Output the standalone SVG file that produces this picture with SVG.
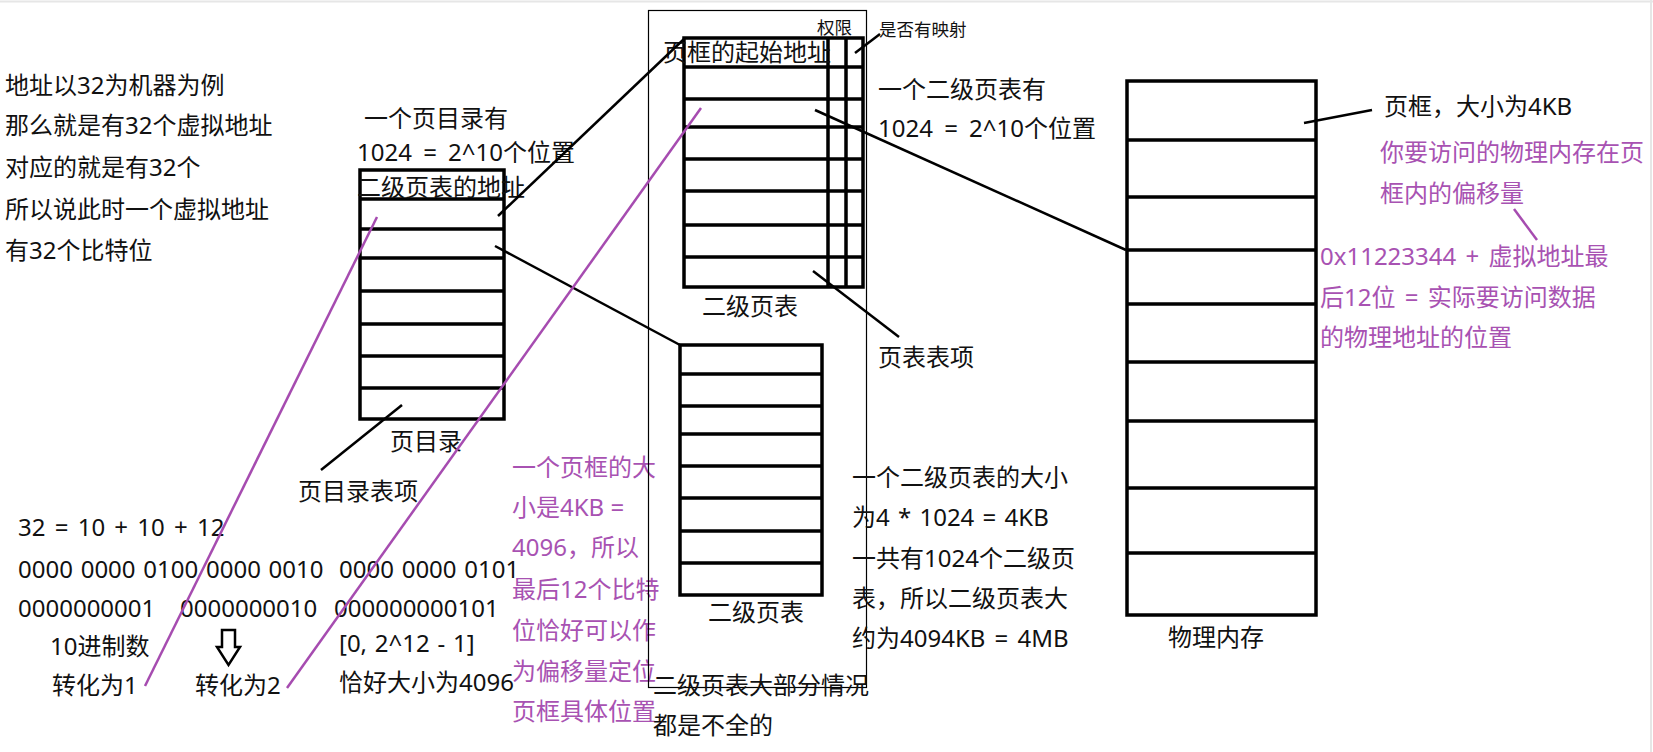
<svg xmlns="http://www.w3.org/2000/svg" width="1653" height="752" viewBox="0 0 1653 752">
<style>
.t{font-family:"Noto Sans","Noto Sans CJK SC",sans-serif;font-size:24px;fill:#111}
.s{font-size:17.5px}
.p{fill:#a852b2}
.w{word-spacing:5px}
.box{fill:none;stroke:#000;stroke-width:3.5}
.row{stroke:#000;stroke-width:3.5}
.thin{fill:none;stroke:#000;stroke-width:1.2}
.c{stroke:#000;stroke-width:2.5;fill:none}
.pl{stroke:#a64cb0;stroke-width:2.5;fill:none}
</style>
<rect width="1653" height="752" fill="#fff"/>
<line x1="0" y1="1.5" x2="1653" y2="1.5" stroke="#e6e6e6" stroke-width="2"/>
<line x1="1651" y1="0" x2="1651" y2="752" stroke="#e6e6e6" stroke-width="2"/>

<g id="intro-text">
<text class="t" x="5" y="94">地址以32为机器为例</text>
<text class="t" x="5" y="134">那么就是有32个虚拟地址</text>
<text class="t" x="5" y="176">对应的就是有32个</text>
<text class="t" x="5" y="218">所以说此时一个虚拟地址</text>
<text class="t" x="5" y="259">有32个比特位</text>
</g>

<g id="page-directory">
<rect class="box" x="360" y="170" width="144" height="249"/>
<path class="row" d="M360 199H504M360 229H504M360 258H504M360 291H504M360 324H504M360 356H504M360 388H504"/>
<text class="t" x="364" y="127">一个页目录有</text>
<text class="t w" x="357" y="161">1024 = 2^10个位置</text>
<text class="t" x="357" y="196">二级页表的地址</text>
<text class="t" x="390" y="450">页目录</text>
<text class="t" x="298" y="500">页目录表项</text>
</g>

<g id="bits-text">
<text class="t" x="18" y="536" word-spacing="3">32 = 10 + 10 + 12</text>
<text class="t" x="18" y="578" word-spacing="1.5" xml:space="preserve">0000 0000 0100 0000 0010  0000 0000 0101</text>
<text class="t" x="18" y="617">0000000001</text>
<text class="t" x="180" y="617">0000000010</text>
<text class="t" x="334" y="617">000000000101</text>
<text class="t" x="50" y="655">10进制数</text>
<text class="t" x="52" y="694">转化为1</text>
<text class="t" x="195" y="694">转化为2</text>
<text class="t" x="339" y="652" word-spacing="1.5">[0, 2^12 - 1]</text>
<text class="t" x="339" y="691">恰好大小为4096</text>
<polygon points="222,630 235,630 235,647 240,647 228.5,665 217,647 222,647" fill="#fff" stroke="#000" stroke-width="2.5" stroke-linejoin="miter"/>
</g>

<g id="offset-note">
<text class="t p" x="512" y="476">一个页框的大</text>
<text class="t p" x="512" y="516">小是4KB =</text>
<text class="t p" x="512" y="556">4096，所以</text>
<text class="t p" x="512" y="598">最后12个比特</text>
<text class="t p" x="512" y="639">位恰好可以作</text>
<text class="t p" x="512" y="680">为偏移量定位</text>
<text class="t p" x="512" y="720">页框具体位置</text>
</g>

<g id="page-table-container">
<rect class="thin" x="648.5" y="10.5" width="218" height="677"/>
<text class="t" x="653" y="694">二级页表大部分情况</text>
<text class="t" x="653" y="734">都是不全的</text>
</g>

<g id="page-table-1">
<rect class="box" x="684" y="38" width="179" height="249"/>
<path class="row" d="M828 38V287M846 38V287M684 67H863M684 99H863M684 127H863M684 159H863M684 191H863M684 225H863M684 257H863"/>
<text class="t" x="663" y="61">页框的起始地址</text>
<text class="t s" x="817" y="34">权限</text>
<text class="t s" x="879" y="36">是否有映射</text>
<text class="t" x="702" y="315">二级页表</text>
<text class="t" x="878" y="98">一个二级页表有</text>
<text class="t w" x="878" y="137">1024 = 2^10个位置</text>
<text class="t" x="878" y="366">页表表项</text>
</g>

<g id="page-table-2">
<rect class="box" x="680" y="345" width="142" height="250"/>
<path class="row" d="M680 374H822M680 406H822M680 434H822M680 466H822M680 498H822M680 531H822M680 563H822"/>
<text class="t" x="708" y="621">二级页表</text>
<text class="t" x="852" y="486">一个二级页表的大小</text>
<text class="t" x="852" y="526" word-spacing="2">为4 * 1024 = 4KB</text>
<text class="t" x="852" y="567">一共有1024个二级页</text>
<text class="t" x="852" y="607">表，所以二级页表大</text>
<text class="t" x="852" y="647" word-spacing="3">约为4094KB = 4MB</text>
</g>

<g id="physical-memory">
<rect class="box" x="1127" y="81" width="189" height="534"/>
<path class="row" d="M1127 140H1316M1127 197H1316M1127 250H1316M1127 304H1316M1127 362H1316M1127 421H1316M1127 488H1316M1127 553H1316"/>
<text class="t" x="1168" y="646">物理内存</text>
<text class="t" x="1384" y="115">页框，大小为4KB</text>
<text class="t p" x="1380" y="161">你要访问的物理内存在页</text>
<text class="t p" x="1380" y="202">框内的偏移量</text>
<text class="t p" x="1320" y="265" word-spacing="3">0x11223344 + 虚拟地址最</text>
<text class="t p" x="1320" y="306" word-spacing="3">后12位 = 实际要访问数据</text>
<text class="t p" x="1320" y="346">的物理地址的位置</text>
</g>

<g id="connectors">
<line class="c" x1="498" y1="216" x2="684" y2="39"/>
<line class="c" x1="495" y1="246" x2="680" y2="345"/>
<line class="c" x1="321" y1="470" x2="402" y2="405"/>
<line class="c" x1="880" y1="34" x2="855" y2="53"/>
<line class="c" x1="813" y1="271" x2="899" y2="337"/>
<line class="c" x1="815" y1="110" x2="1126" y2="250"/>
<line class="c" x1="1304" y1="123" x2="1372" y2="110"/>
<line class="pl" x1="145" y1="686" x2="377" y2="217"/>
<line class="pl" x1="287" y1="688" x2="701" y2="108"/>
<line class="pl" x1="1514" y1="209" x2="1537" y2="240"/>
</g>
</svg>
